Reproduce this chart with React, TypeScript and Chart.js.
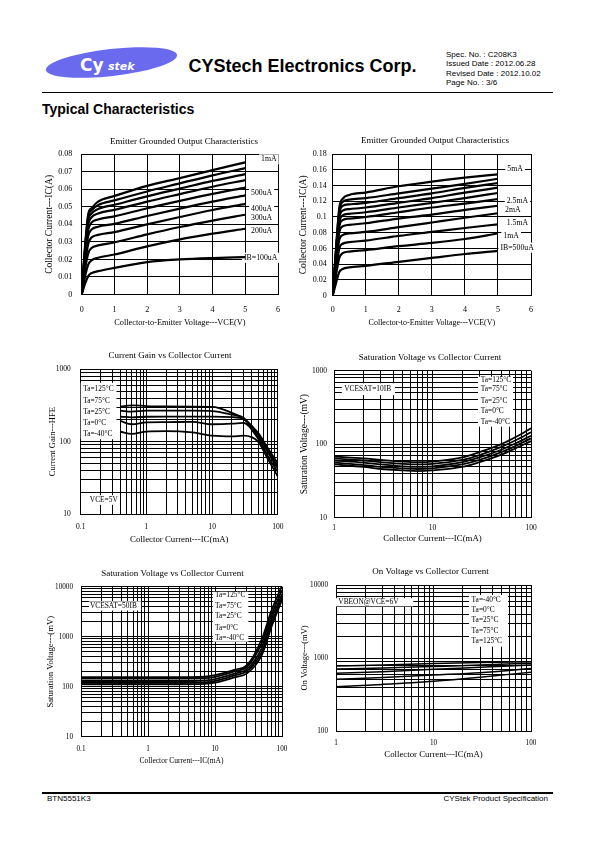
import React, { useEffect, useRef } from 'react';
import { Chart, registerables } from 'chart.js';

Chart.register(...registerables);

const SERIF = "'Liberation Serif', 'Times New Roman', serif";
const SANS = "'Liberation Sans', Arial, Helvetica, sans-serif";

// ---------- Chart 1: Emitter grounded output (IB = 100uA .. 1mA) ----------
const OUT1_VCE = [0, 0.1, 0.2, 0.3, 0.5, 1, 2, 3, 4, 5];
const OUT1_100UA = [0, 0.006, 0.0105, 0.0122, 0.0133, 0.0152, 0.0185, 0.02, 0.0208, 0.0213];
const OUT1_200UA = [0, 0.01, 0.017, 0.0195, 0.021, 0.0228, 0.0275, 0.0315, 0.0347, 0.0375];
const OUT1_300UA = [0, 0.014, 0.0235, 0.0265, 0.028, 0.0297, 0.0343, 0.0385, 0.0422, 0.0455];
const OUT1_400UA = [0, 0.017, 0.029, 0.0325, 0.034, 0.0356, 0.04, 0.0442, 0.0482, 0.0517];
const OUT1_500UA = [0, 0.02, 0.0335, 0.037, 0.0387, 0.0403, 0.0448, 0.049, 0.053, 0.0566];
const OUT1_600UA = [0, 0.022, 0.037, 0.041, 0.0428, 0.0446, 0.0492, 0.0534, 0.0574, 0.061];
const OUT1_700UA = [0, 0.024, 0.04, 0.044, 0.0462, 0.0483, 0.053, 0.0573, 0.0615, 0.0653];
const OUT1_800UA = [0, 0.025, 0.0425, 0.0462, 0.0488, 0.0512, 0.056, 0.0604, 0.0648, 0.0687];
const OUT1_900UA = [0, 0.026, 0.0445, 0.048, 0.051, 0.0537, 0.0588, 0.0634, 0.068, 0.0721];
const OUT1_1MA = [0, 0.027, 0.046, 0.0492, 0.053, 0.0562, 0.062, 0.0664, 0.071, 0.0754];
const OUT1_XTICKS = [0, 1, 2, 3, 4, 5, 6];
const OUT1_YTICKS = [0, 0.01, 0.02, 0.03, 0.04, 0.05, 0.06, 0.07, 0.08];

// ---------- Chart 2: Emitter grounded output (IB = 500uA .. 5mA) ----------
const OUT2_VCE = [0, 0.1, 0.2, 0.3, 0.5, 1, 2, 3, 4, 5];
const OUT2_C1 = [0, 0.016, 0.03, 0.034, 0.036, 0.038, 0.043, 0.048, 0.053, 0.057];
const OUT2_C2 = [0, 0.026, 0.048, 0.054, 0.056, 0.058, 0.063, 0.067, 0.072, 0.079];
const OUT2_C3 = [0, 0.032, 0.06, 0.066, 0.068, 0.07, 0.076, 0.081, 0.086, 0.0907];
const OUT2_C4 = [0, 0.038, 0.071, 0.077, 0.079, 0.081, 0.087, 0.093, 0.099, 0.1047];
const OUT2_C5 = [0, 0.043, 0.081, 0.088, 0.09, 0.092, 0.098, 0.103, 0.109, 0.1143];
const OUT2_C6 = [0, 0.047, 0.088, 0.096, 0.098, 0.1, 0.106, 0.112, 0.117, 0.1228];
const OUT2_C7 = [0, 0.05, 0.093, 0.102, 0.104, 0.106, 0.112, 0.118, 0.124, 0.1305];
const OUT2_C8 = [0, 0.053, 0.099, 0.108, 0.11, 0.112, 0.118, 0.124, 0.131, 0.1372];
const OUT2_C9 = [0, 0.056, 0.104, 0.114, 0.116, 0.118, 0.124, 0.13, 0.137, 0.1432];
const OUT2_C10 = [0, 0.058, 0.108, 0.119, 0.122, 0.124, 0.13, 0.136, 0.142, 0.1486];
const OUT2_C11 = [0, 0.06, 0.112, 0.123, 0.128, 0.131, 0.139, 0.145, 0.15, 0.1542];
const OUT2_XTICKS = [0, 1, 2, 3, 4, 5, 6];
const OUT2_YTICKS = [0, 0.02, 0.04, 0.06, 0.08, 0.1, 0.12, 0.14, 0.16, 0.18];

// ---------- Chart 3: Current gain vs collector current ----------
const HFE_IC = [0.4, 0.6, 1, 2, 5, 10, 20, 30, 50, 70, 100];
const HFE_125 = [305, 318, 310, 306, 305, 303, 250, 208, 132, 82, 50];
const HFE_75 = [268, 260, 268, 268, 268, 265, 236, 214, 124, 78, 45];
const HFE_25 = [221, 217, 221, 222, 222, 222, 218, 205, 118, 72, 42];
const HFE_0 = [193, 174, 185, 186, 188, 174, 177, 182, 110, 64, 38];
const HFE_M40 = [137, 128, 138, 140, 134, 121, 118, 121, 100, 58, 33];
const HFE_X_DECADES = [0.1, 1, 10, 100];
const HFE_Y_DECADES = [10, 100, 1000];

// ---------- Chart 4: Saturation voltage (IC = 10 IB) ----------
const SAT10_IC = [1, 2, 3, 5, 7, 10, 20, 30, 50, 70, 100];
const SAT10_125 = [68, 64, 61, 58, 57, 58, 66, 78, 100, 125, 165];
const SAT10_75 = [64, 60, 57, 54, 53, 54, 61, 71, 92, 113, 145];
const SAT10_25 = [60, 56, 53, 50, 49, 50, 57, 66, 84, 103, 130];
const SAT10_0 = [56, 52, 49, 47, 46, 47, 53, 61, 78, 95, 120];
const SAT10_M40 = [53, 49, 46, 44, 43, 44, 49, 57, 72, 88, 110];
const SAT10_X_DECADES = [1, 10, 100];
const SAT10_Y_DECADES = [10, 100, 1000];

// ---------- Chart 5: Saturation voltage (IC = 50 IB) ----------
const SAT50_IC = [0.1, 0.3, 1, 3, 7, 10, 20, 30, 50, 70, 100];
const SAT50_125 = [155, 155, 155, 155, 158, 170, 220, 270, 900, 3400, 10500];
const SAT50_75 = [145, 145, 145, 145, 148, 158, 205, 250, 750, 2800, 8500];
const SAT50_25 = [130, 130, 130, 130, 133, 142, 185, 225, 600, 2300, 7000];
const SAT50_0 = [120, 120, 120, 120, 122, 130, 170, 205, 500, 1900, 6000];
const SAT50_M40 = [112, 112, 112, 112, 114, 120, 155, 185, 430, 1600, 5400];
const SAT50_X_DECADES = [0.1, 1, 10, 100];
const SAT50_Y_DECADES = [10, 100, 1000, 10000];

// ---------- Chart 6: On voltage vs collector current ----------
const VBE_IC = [1, 3, 10, 30, 100];
const VBE_M40 = [780, 800, 840, 865, 890];
const VBE_0 = [705, 730, 765, 800, 850];
const VBE_25 = [620, 650, 700, 745, 800];
const VBE_75 = [510, 540, 585, 630, 720];
const VBE_125 = [405, 435, 480, 545, 640];
const VBE_X_DECADES = [1, 10, 100];
const VBE_Y_DECADES = [100, 1000, 10000];

const TA_TEXTS = ['Ta=125°C', 'Ta=75°C', 'Ta=25°C', 'Ta=0°C', 'Ta=-40°C'];
const TA_TEXTS_REV = ['Ta=-40°C', 'Ta=0°C', 'Ta=25°C', 'Ta=75°C', 'Ta=125°C'];

type LabelItem = { x: number; y: number; text: string; align?: 'left' | 'center' };
type LabelGroup = { box?: [number, number, number, number]; items: LabelItem[] };

// annotation placements (data coordinates)
const OUT1_LABELS: LabelGroup[] = [
  { items: [{ x: 5.72, y: 0.0771, text: '1mA', align: 'center' }] },
  { items: [{ x: 5.5, y: 0.0578, text: '500uA', align: 'center' }] },
  { items: [{ x: 5.5, y: 0.0488, text: '400uA', align: 'center' }] },
  { items: [{ x: 5.5, y: 0.0435, text: '300uA', align: 'center' }] },
  { items: [{ x: 5.5, y: 0.0364, text: '200uA', align: 'center' }] },
  { items: [{ x: 5.47, y: 0.021, text: 'IB=100uA', align: 'center' }] },
];
const OUT2_LABELS: LabelGroup[] = [
  { items: [{ x: 5.52, y: 0.161, text: '5mA', align: 'center' }] },
  { items: [{ x: 5.59, y: 0.1207, text: '2.5mA', align: 'center' }] },
  { items: [{ x: 5.45, y: 0.1085, text: '2mA', align: 'center' }] },
  { items: [{ x: 5.59, y: 0.0927, text: '1.5mA', align: 'center' }] },
  { items: [{ x: 5.4, y: 0.0758, text: '1mA', align: 'center' }] },
  { items: [{ x: 5.58, y: 0.061, text: 'IB=500uA', align: 'center' }] },
];
const HFE_TA_Y = [529, 368, 259, 181, 129];
const HFE_LABELS: LabelGroup[] = [
  { box: [0.1, 650, 0.35, 108], items: TA_TEXTS.map((t, i) => ({ x: 0.109, y: HFE_TA_Y[i], text: t })) },
  { items: [{ x: 0.1375, y: 15.6, text: 'VCE=5V' }] },
];
const SAT10_TA_Y = [754, 559, 391, 280, 199];
const SAT10_LABELS: LabelGroup[] = [
  { box: [1.2, 674, 4.16, 467], items: [{ x: 1.27, y: 559, text: 'VCESAT=10IB' }] },
  { box: [29, 828, 65.7, 173], items: TA_TEXTS.map((t, i) => ({ x: 30.9, y: SAT10_TA_Y[i], text: t })) },
];
const SAT50_TA_Y = [6820, 4110, 2547, 1492, 942];
const SAT50_LABELS: LabelGroup[] = [
  { box: [0.131, 5100, 0.79, 3330], items: [{ x: 0.136, y: 4110, text: 'VCESAT=50IB' }] },
  { box: [9.25, 7943, 31.4, 794], items: TA_TEXTS.map((t, i) => ({ x: 10, y: SAT50_TA_Y[i], text: t })) },
];
const VBE_TA_Y = [6234, 4550, 3320, 2366, 1726];
const VBE_LABELS: LabelGroup[] = [
  { box: [1, 6600, 6.2, 5100], items: [{ x: 1.056, y: 5800, text: 'VBEON@VCE=6V' }] },
  { box: [23.1, 7300, 58.1, 1430], items: TA_TEXTS_REV.map((t, i) => ({ x: 24.6, y: VBE_TA_Y[i], text: t })) },
];

function decadeTicks(decades: number[]): number[] {
  const out: number[] = [];
  decades.forEach((d, i) => {
    if (i === decades.length - 1) {
      out.push(d);
      return;
    }
    for (let m = 1; m <= 9; m++) out.push(+(d * m).toPrecision(6));
  });
  return out;
}
const isDecade = (v: number) => Math.abs(Math.log10(v) - Math.round(Math.log10(v))) < 1e-6;
const fmt = (v: number) => String(+Number(v).toPrecision(6));

type Series = { label: string; x: number[]; y: number[] };
interface PanelSpec {
  plot: { l: number; t: number; r: number; b: number };
  titleCx: number;
  titleCy: number;
  yTitleCx: number;
  xTitleCy: number;
  xTickCy: number;
  yTickGap: number;
  title: string;
  xTitle: string;
  yTitle: string;
  xLog: boolean;
  yLog: boolean;
  xRange: [number, number];
  yRange: [number, number];
  xTicks: number[];
  yTicks: number[];
  series: Series[];
  lineWidth: number;
  groups: LabelGroup[];
  tickSize: number;
  xTitleSize: number;
  yTitleSize: number;
  titleSize: number;
  labelSize: number;
}

const X_VCE = 'Collector-to-Emitter Voltage---VCE(V)';
const X_IC = 'Collector Current---IC(mA)';

const PANELS: PanelSpec[] = [
  {
    plot: { l: 81.7, t: 154.3, r: 277.7, b: 294.5 },
    titleCx: 183.8, titleCy: 141, yTitleCx: 50, xTitleCy: 322.7, xTickCy: 310, yTickGap: 9.5,
    title: 'Emitter Grounded Output Characteristics', xTitle: X_VCE, yTitle: 'Collector Current---IC(A)',
    xLog: false, yLog: false, xRange: [0, 6], yRange: [0, 0.08], xTicks: OUT1_XTICKS, yTicks: OUT1_YTICKS,
    series: [
      { label: '100uA', x: OUT1_VCE, y: OUT1_100UA },
      { label: '200uA', x: OUT1_VCE, y: OUT1_200UA },
      { label: '300uA', x: OUT1_VCE, y: OUT1_300UA },
      { label: '400uA', x: OUT1_VCE, y: OUT1_400UA },
      { label: '500uA', x: OUT1_VCE, y: OUT1_500UA },
      { label: '600uA', x: OUT1_VCE, y: OUT1_600UA },
      { label: '700uA', x: OUT1_VCE, y: OUT1_700UA },
      { label: '800uA', x: OUT1_VCE, y: OUT1_800UA },
      { label: '900uA', x: OUT1_VCE, y: OUT1_900UA },
      { label: '1mA', x: OUT1_VCE, y: OUT1_1MA },
    ],
    lineWidth: 2.2, groups: OUT1_LABELS, tickSize: 8, xTitleSize: 8.3, yTitleSize: 9.5, titleSize: 9, labelSize: 7.8,
  },
  {
    plot: { l: 332.7, t: 154, r: 530.7, b: 295.7 },
    titleCx: 434.8, titleCy: 140, yTitleCx: 304, xTitleCy: 323.3, xTickCy: 310, yTickGap: 6,
    title: 'Emitter Grounded Output Characteristics', xTitle: X_VCE, yTitle: 'Collector Current---IC(A)',
    xLog: false, yLog: false, xRange: [0, 6], yRange: [0, 0.18], xTicks: OUT2_XTICKS, yTicks: OUT2_YTICKS,
    series: [
      { label: 'c1', x: OUT2_VCE, y: OUT2_C1 },
      { label: 'c2', x: OUT2_VCE, y: OUT2_C2 },
      { label: 'c3', x: OUT2_VCE, y: OUT2_C3 },
      { label: 'c4', x: OUT2_VCE, y: OUT2_C4 },
      { label: 'c5', x: OUT2_VCE, y: OUT2_C5 },
      { label: 'c6', x: OUT2_VCE, y: OUT2_C6 },
      { label: 'c7', x: OUT2_VCE, y: OUT2_C7 },
      { label: 'c8', x: OUT2_VCE, y: OUT2_C8 },
      { label: 'c9', x: OUT2_VCE, y: OUT2_C9 },
      { label: 'c10', x: OUT2_VCE, y: OUT2_C10 },
      { label: 'c11', x: OUT2_VCE, y: OUT2_C11 },
    ],
    lineWidth: 2.2, groups: OUT2_LABELS, tickSize: 8, xTitleSize: 8, yTitleSize: 9.5, titleSize: 9, labelSize: 7.8,
  },
  {
    plot: { l: 80.7, t: 369.3, r: 282.3, b: 514 },
    titleCx: 170, titleCy: 355, yTitleCx: 52.7, xTitleCy: 539.3, xTickCy: 527, yTickGap: 10,
    title: 'Current Gain vs Collector Current', xTitle: X_IC, yTitle: 'Current Gain---HFE',
    xLog: true, yLog: true, xRange: [0.1, 100], yRange: [10, 1000],
    xTicks: decadeTicks(HFE_X_DECADES), yTicks: decadeTicks(HFE_Y_DECADES),
    series: [
      { label: 'Ta=125°C', x: HFE_IC, y: HFE_125 },
      { label: 'Ta=75°C', x: HFE_IC, y: HFE_75 },
      { label: 'Ta=25°C', x: HFE_IC, y: HFE_25 },
      { label: 'Ta=0°C', x: HFE_IC, y: HFE_0 },
      { label: 'Ta=-40°C', x: HFE_IC, y: HFE_M40 },
    ],
    lineWidth: 1.8, groups: HFE_LABELS, tickSize: 7.5, xTitleSize: 8.8, yTitleSize: 8.5, titleSize: 9, labelSize: 7.4,
  },
  {
    plot: { l: 334, t: 370.7, r: 531, b: 517.7 },
    titleCx: 430, titleCy: 357.3, yTitleCx: 304.3, xTitleCy: 538.7, xTickCy: 528, yTickGap: 7,
    title: 'Saturation Voltage vs Collector Current', xTitle: X_IC, yTitle: 'Saturation Voltage---(mV)',
    xLog: true, yLog: true, xRange: [1, 100], yRange: [10, 1000],
    xTicks: decadeTicks(SAT10_X_DECADES), yTicks: decadeTicks(SAT10_Y_DECADES),
    series: [
      { label: 'Ta=125°C', x: SAT10_IC, y: SAT10_125 },
      { label: 'Ta=75°C', x: SAT10_IC, y: SAT10_75 },
      { label: 'Ta=25°C', x: SAT10_IC, y: SAT10_25 },
      { label: 'Ta=0°C', x: SAT10_IC, y: SAT10_0 },
      { label: 'Ta=-40°C', x: SAT10_IC, y: SAT10_M40 },
    ],
    lineWidth: 1.8, groups: SAT10_LABELS, tickSize: 7.5, xTitleSize: 8.8, yTitleSize: 9.5, titleSize: 9, labelSize: 7.4,
  },
  {
    plot: { l: 81, t: 586.7, r: 282, b: 736.7 },
    titleCx: 172.5, titleCy: 573.3, yTitleCx: 50.7, xTitleCy: 761, xTickCy: 749.3, yTickGap: 8,
    title: 'Saturation Voltage vs Collector Current', xTitle: X_IC, yTitle: 'Saturation Voltage---(mV)',
    xLog: true, yLog: true, xRange: [0.1, 100], yRange: [10, 10000],
    xTicks: decadeTicks(SAT50_X_DECADES), yTicks: decadeTicks(SAT50_Y_DECADES),
    series: [
      { label: 'Ta=125°C', x: SAT50_IC, y: SAT50_125 },
      { label: 'Ta=75°C', x: SAT50_IC, y: SAT50_75 },
      { label: 'Ta=25°C', x: SAT50_IC, y: SAT50_25 },
      { label: 'Ta=0°C', x: SAT50_IC, y: SAT50_0 },
      { label: 'Ta=-40°C', x: SAT50_IC, y: SAT50_M40 },
    ],
    lineWidth: 1.8, groups: SAT50_LABELS, tickSize: 7.2, xTitleSize: 7.5, yTitleSize: 8.7, titleSize: 9, labelSize: 7.4,
  },
  {
    plot: { l: 336, t: 585, r: 531, b: 731 },
    titleCx: 430.5, titleCy: 571, yTitleCx: 305, xTitleCy: 755, xTickCy: 743.3, yTickGap: 8,
    title: 'On Voltage vs Collector Current', xTitle: X_IC, yTitle: 'On Voltage---(mV)',
    xLog: true, yLog: true, xRange: [1, 100], yRange: [100, 10000],
    xTicks: decadeTicks(VBE_X_DECADES), yTicks: decadeTicks(VBE_Y_DECADES),
    series: [
      { label: 'Ta=-40°C', x: VBE_IC, y: VBE_M40 },
      { label: 'Ta=0°C', x: VBE_IC, y: VBE_0 },
      { label: 'Ta=25°C', x: VBE_IC, y: VBE_25 },
      { label: 'Ta=75°C', x: VBE_IC, y: VBE_75 },
      { label: 'Ta=125°C', x: VBE_IC, y: VBE_125 },
    ],
    lineWidth: 1.5, groups: VBE_LABELS, tickSize: 7.2, xTitleSize: 8.8, yTitleSize: 8.5, titleSize: 9, labelSize: 7.4,
  },
];

function geometry(s: PanelSpec) {
  const lhT = s.titleSize * 1.2;
  const lhX = s.xTitleSize * 1.2;
  const lhY = s.yTitleSize * 1.2;
  const lhK = s.tickSize * 1.2;
  const L0 = Math.round(s.yTitleCx - lhY / 2);
  const T0 = Math.round(s.titleCy - lhT / 2);
  const R = Math.max(10, Math.round(2 * s.titleCx - L0 - s.plot.r));
  const W = Math.round(s.plot.r + R - L0);
  const H = Math.round(s.xTitleCy + lhX / 2 - T0);
  const YW = s.plot.l - L0;
  const XH = T0 + H - s.plot.b;
  const titlePadBottom = Math.max(0, s.plot.t - T0 - lhT);
  const xTickPad = s.xTickCy - s.plot.b - lhK / 2;
  return { L0, T0, R, W, H, YW, XH, titlePadBottom, xTickPad };
}

function labelPlugin(groups: LabelGroup[], size: number) {
  return {
    id: 'labelBoxes',
    beforeDatasetsDraw(chart: any) {
      const ctx = chart.ctx as CanvasRenderingContext2D;
      const xs = chart.scales.x;
      const ys = chart.scales.y;
      ctx.save();
      ctx.font = `${size}px ${SERIF}`;
      ctx.textBaseline = 'middle';
      ctx.textAlign = 'left';
      for (const g of groups) {
        ctx.fillStyle = '#fff';
        if (g.box) {
          const x1 = xs.getPixelForValue(g.box[0]);
          const y1 = ys.getPixelForValue(g.box[1]);
          const x2 = xs.getPixelForValue(g.box[2]);
          const y2 = ys.getPixelForValue(g.box[3]);
          ctx.fillRect(Math.min(x1, x2), Math.min(y1, y2), Math.abs(x2 - x1), Math.abs(y2 - y1));
        }
        const placed = g.items.map((it) => {
          const px = xs.getPixelForValue(it.x);
          const py = ys.getPixelForValue(it.y);
          const w = ctx.measureText(it.text).width;
          const left = it.align === 'center' ? px - w / 2 : px;
          return { left, py, w, text: it.text };
        });
        if (!g.box) {
          for (const p of placed) ctx.fillRect(p.left - 2, p.py - size * 0.65, p.w + 4, size * 1.3);
        }
        ctx.fillStyle = '#000';
        for (const p of placed) ctx.fillText(p.text, p.left, p.py);
      }
      ctx.restore();
    },
  };
}

function buildConfig(s: PanelSpec, g: ReturnType<typeof geometry>) {
  const axisCommon = {
    grid: { color: '#000', lineWidth: 1, drawTicks: false },
    border: { color: '#000', width: 1 },
  };
  const tickLabel = (log: boolean) => (v: any) => {
    const n = Number(v);
    if (log) return isDecade(n) ? fmt(n) : '';
    return fmt(n);
  };
  return {
    type: 'line',
    data: {
      datasets: s.series.map((se) => ({
        label: se.label,
        data: se.x.map((x, i) => ({ x, y: se.y[i] })),
        borderColor: '#000',
        backgroundColor: '#000',
        borderWidth: s.lineWidth,
        pointRadius: 0,
        fill: false,
        cubicInterpolationMode: 'monotone',
        xAxisID: 'x',
        yAxisID: 'y',
      })),
    },
    options: {
      animation: false,
      responsive: false,
      devicePixelRatio: 1,
      events: [],
      layout: { padding: 0 },
      plugins: {
        legend: { display: false },
        tooltip: { enabled: false },
        title: {
          display: true,
          text: s.title,
          color: '#000',
          font: { family: SERIF, size: s.titleSize, weight: 'normal', lineHeight: 1.2 },
          padding: { top: 0, bottom: g.titlePadBottom },
        },
      },
      scales: {
        x: {
          ...axisCommon,
          type: s.xLog ? 'logarithmic' : 'linear',
          position: 'bottom',
          min: s.xRange[0],
          max: s.xRange[1],
          afterBuildTicks: (sc: any) => {
            sc.ticks = s.xTicks.map((v) => ({ value: v }));
          },
          afterFit: (sc: any) => {
            sc.height = g.XH;
          },
          ticks: {
            autoSkip: false,
            maxRotation: 0,
            minRotation: 0,
            padding: g.xTickPad,
            color: '#000',
            font: { family: SERIF, size: s.tickSize, lineHeight: 1.2 },
            callback: tickLabel(s.xLog),
          },
          title: {
            display: true,
            text: s.xTitle,
            color: '#000',
            font: { family: SERIF, size: s.xTitleSize, lineHeight: 1.2 },
            padding: 0,
          },
        },
        y: {
          ...axisCommon,
          type: s.yLog ? 'logarithmic' : 'linear',
          position: 'left',
          min: s.yRange[0],
          max: s.yRange[1],
          afterBuildTicks: (sc: any) => {
            sc.ticks = s.yTicks.map((v) => ({ value: v }));
          },
          afterFit: (sc: any) => {
            sc.width = g.YW;
          },
          ticks: {
            autoSkip: false,
            padding: s.yTickGap,
            color: '#000',
            font: { family: SERIF, size: s.tickSize, lineHeight: 1.2 },
            callback: tickLabel(s.yLog),
          },
          title: {
            display: true,
            text: s.yTitle,
            color: '#000',
            font: { family: SERIF, size: s.yTitleSize, lineHeight: 1.2 },
            padding: 0,
          },
        },
        spacer: {
          type: 'linear',
          position: 'right',
          display: true,
          grid: { display: false, drawTicks: false },
          border: { display: false },
          ticks: { display: false },
          title: { display: false },
          afterFit: (sc: any) => {
            sc.width = g.R;
          },
        },
      },
    },
    plugins: [labelPlugin(s.groups, s.labelSize)],
  };
}

function Panel({ spec }: { spec: PanelSpec }) {
  const ref = useRef<HTMLCanvasElement>(null);
  const g = geometry(spec);
  useEffect(() => {
    const canvas = ref.current;
    if (!canvas) return;
    const chart = new Chart(canvas, buildConfig(spec, g) as any);
    return () => chart.destroy();
  }, []);
  return (
    <canvas
      ref={ref}
      width={g.W}
      height={g.H}
      style={{ position: 'absolute', left: g.L0, top: g.T0, width: g.W, height: g.H }}
    />
  );
}

const SPEC_LINES = ['Spec. No. : C208K3', 'Issued Date : 2012.06.28', 'Revised Date : 2012.10.02', 'Page No. : 3/6'];

export default function App() {
  return (
    <div
      style={{
        position: 'absolute',
        left: 0,
        top: 0,
        width: 595,
        height: 842,
        background: '#fff',
        overflow: 'hidden',
        fontFamily: SANS,
        color: '#000',
      }}
    >
      <svg style={{ position: 'absolute', left: 40, top: 40 }} width={145} height={45}>
        <ellipse cx={71.5} cy={22.5} rx={66} ry={13.5} fill="#6a6aee" transform="rotate(-6.5 71.5 22.5)" />
        <text x={40} y={30.5} fill="#fff" fontFamily="'DejaVu Sans', Arial, sans-serif" fontWeight="bold" fontSize={17}>
          Cy
        </text>
        <text x={68} y={30} fill="#fff" fontFamily="'DejaVu Sans', Arial, sans-serif" fontWeight="bold" fontStyle="italic" fontSize={11}>
          stek
        </text>
      </svg>
      <div
        style={{
          position: 'absolute',
          left: 188.5,
          top: 57,
          fontSize: 18,
          lineHeight: '18px',
          fontWeight: 'bold',
          whiteSpace: 'nowrap',
        }}
      >
        CYStech Electronics Corp.
      </div>
      <div style={{ position: 'absolute', left: 446, top: 50, fontSize: 8, lineHeight: '9.3px', whiteSpace: 'nowrap' }}>
        {SPEC_LINES.map((t) => (
          <div key={t}>{t}</div>
        ))}
      </div>
      <div style={{ position: 'absolute', left: 42, top: 91.5, width: 511, height: 1.5, background: '#000' }} />
      <div
        style={{
          position: 'absolute',
          left: 42,
          top: 102,
          fontSize: 14,
          lineHeight: '14px',
          fontWeight: 'bold',
          whiteSpace: 'nowrap',
        }}
      >
        Typical Characteristics
      </div>
      {PANELS.map((p, i) => (
        <Panel key={i} spec={p} />
      ))}
      <div style={{ position: 'absolute', left: 42, top: 792, width: 511, height: 1.5, background: '#000' }} />
      <div style={{ position: 'absolute', left: 47, top: 795, fontSize: 8, lineHeight: '8px', whiteSpace: 'nowrap' }}>
        BTN5551K3
      </div>
      <div style={{ position: 'absolute', right: 47, top: 795, fontSize: 8, lineHeight: '8px', whiteSpace: 'nowrap' }}>
        CYStek Product Specification
      </div>
    </div>
  );
}
